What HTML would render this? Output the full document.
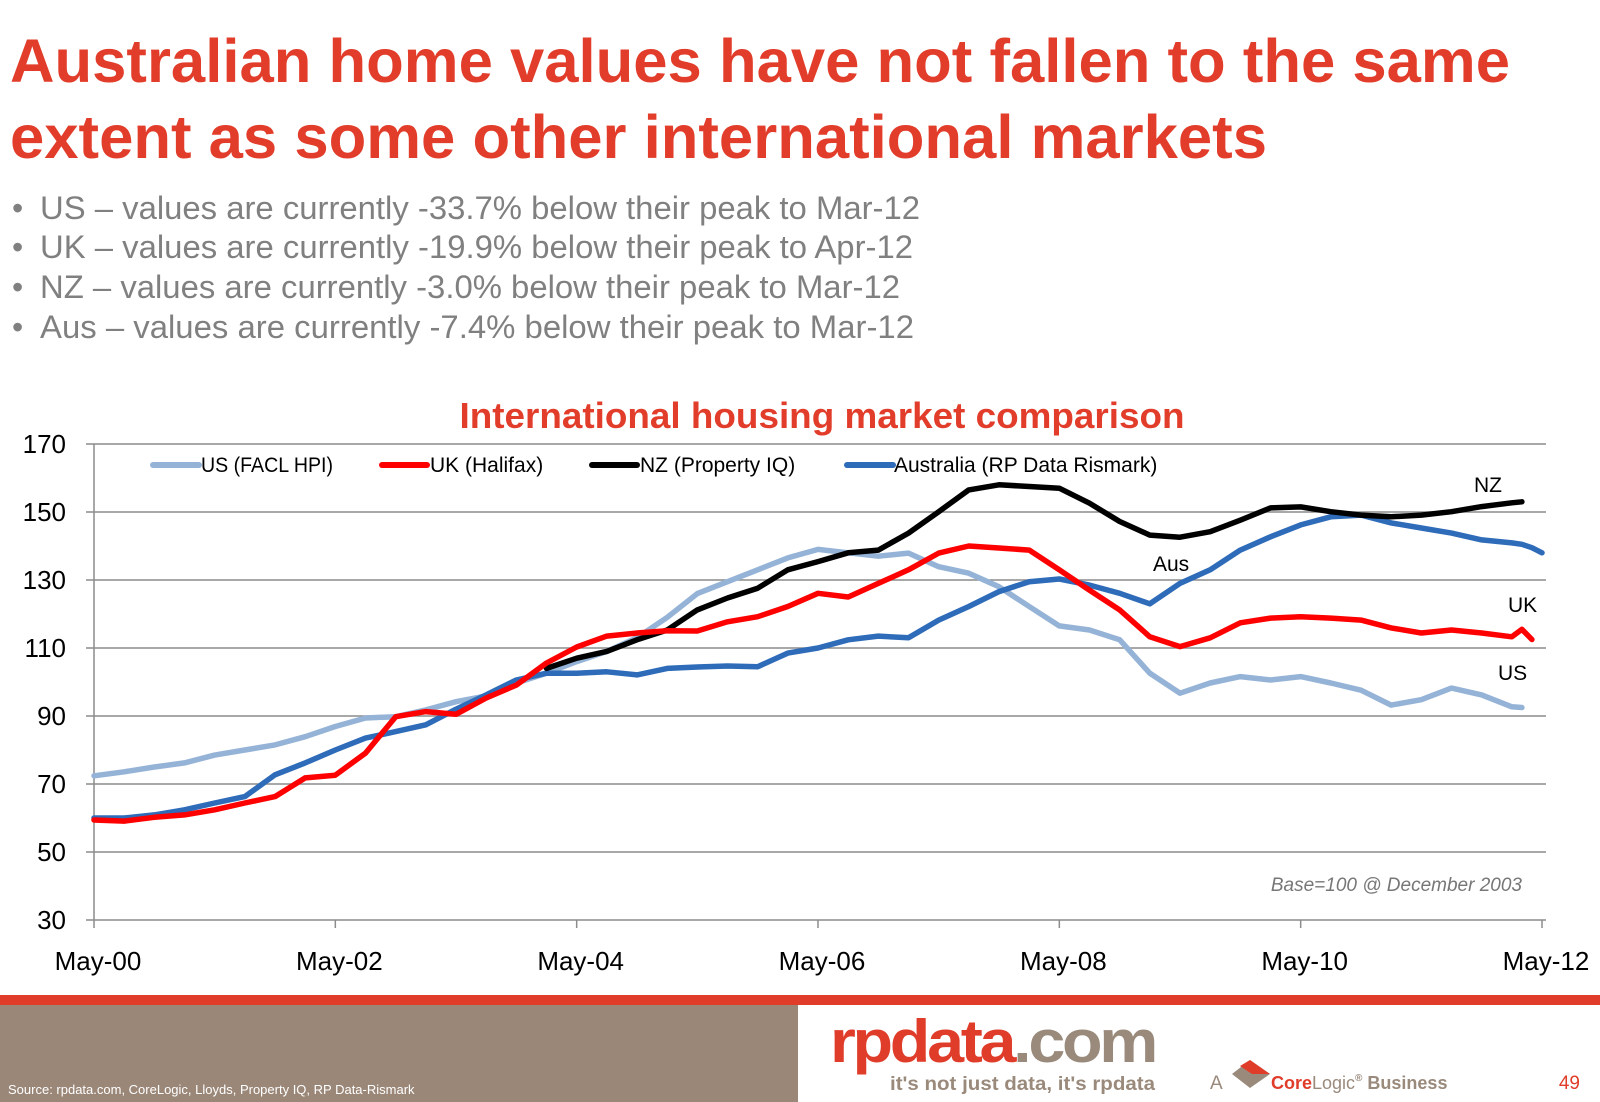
<!DOCTYPE html>
<html><head><meta charset="utf-8">
<style>
html,body{margin:0;padding:0;background:#fff;}
body{width:1600px;height:1102px;overflow:hidden;position:relative;font-family:"Liberation Sans",sans-serif;}
svg{position:absolute;left:0;top:0;}
</style></head>
<body>
<svg id="slide" width="1600" height="1102" viewBox="0 0 1600 1102">
<g font-family="Liberation Sans, sans-serif" font-weight="bold" font-size="61" fill="#e23c2a">
<text x="10" y="82" textLength="1500" lengthAdjust="spacingAndGlyphs">Australian home values have not fallen to the same</text>
<text x="10" y="158" textLength="1257" lengthAdjust="spacingAndGlyphs">extent as some other international markets</text>
</g>
<g font-family="Liberation Sans, sans-serif" font-size="32" fill="#808080">
<text x="12" y="219">•</text><text x="40" y="219" textLength="880" lengthAdjust="spacingAndGlyphs">US – values are currently -33.7% below their peak to Mar-12</text>
<text x="12" y="258">•</text><text x="40" y="258" textLength="873" lengthAdjust="spacingAndGlyphs">UK – values are currently -19.9% below their peak to Apr-12</text>
<text x="12" y="298">•</text><text x="40" y="298" textLength="860" lengthAdjust="spacingAndGlyphs">NZ – values are currently -3.0% below their peak to Mar-12</text>
<text x="12" y="338">•</text><text x="40" y="338" textLength="874" lengthAdjust="spacingAndGlyphs">Aus – values are currently -7.4% below their peak to Mar-12</text>
</g>
<text x="822" y="428" text-anchor="middle" font-family="Liberation Sans, sans-serif" font-weight="bold" font-size="36" fill="#e23c2a" textLength="725" lengthAdjust="spacingAndGlyphs">International housing market comparison</text>
<g id="grid"></g>
<g id="axes"></g>
<g id="series"></g>
<g font-family="Liberation Sans, sans-serif" font-size="21" fill="#000">
<line x1="153" y1="465" x2="199" y2="465" stroke="#95b3d7" stroke-width="6" stroke-linecap="round"/>
<text x="201" y="472" textLength="132" lengthAdjust="spacingAndGlyphs">US (FACL HPI)</text>
<line x1="382" y1="465" x2="427" y2="465" stroke="#ff0000" stroke-width="6" stroke-linecap="round"/>
<text x="430" y="472">UK (Halifax)</text>
<line x1="592" y1="465" x2="637" y2="465" stroke="#000" stroke-width="6" stroke-linecap="round"/>
<text x="640" y="472">NZ (Property IQ)</text>
<line x1="847" y1="465" x2="893" y2="465" stroke="#2e6bb8" stroke-width="6" stroke-linecap="round"/>
<text x="894" y="472">Australia (RP Data Rismark)</text>
</g>
<g font-family="Liberation Sans, sans-serif" font-size="21" fill="#000">
<text x="1474" y="492">NZ</text>
<text x="1153" y="571">Aus</text>
<text x="1508" y="612">UK</text>
<text x="1498" y="680">US</text>
</g>
<text x="1522" y="891" text-anchor="end" font-family="Liberation Sans, sans-serif" font-style="italic" font-size="19" fill="#777">Base=100 @ December 2003</text>
<rect x="0" y="995" width="1600" height="10" fill="#e03c2a"/>
<rect x="0" y="1005" width="798" height="97" fill="#9a8778"/>
<text x="8" y="1094" font-family="Liberation Sans, sans-serif" font-size="13" fill="#fff">Source:  rpdata.com,  CoreLogic, Lloyds, Property IQ, RP Data-Rismark</text>
<text x="830" y="1062" font-family="Liberation Sans, sans-serif" font-weight="bold" font-size="60" letter-spacing="-3" fill="#e03c2a" textLength="325" lengthAdjust="spacingAndGlyphs">rpdata<tspan fill="#9a8a7c">.com</tspan></text>
<text x="890" y="1090" font-family="Liberation Sans, sans-serif" font-weight="bold" font-size="19" fill="#9a8a7c" textLength="265" lengthAdjust="spacingAndGlyphs">it's not just data, it's rpdata</text>
<g>
<text x="1210" y="1089" font-family="Liberation Sans, sans-serif" font-size="19" fill="#9a8a7c">A</text>
<polygon points="1250,1060 1270,1074 1250,1088 1232,1074" fill="#9a8a7c"/>
<polygon points="1250,1060 1270,1074 1252,1074 1240,1066" fill="#e03c2a"/>
<text x="1271" y="1089" font-family="Liberation Sans, sans-serif" font-weight="bold" font-size="18" fill="#e03c2a">Core<tspan fill="#9a8a7c" font-weight="normal">Logic</tspan><tspan fill="#9a8a7c" font-size="10" dy="-8">®</tspan><tspan fill="#9a8a7c" dy="8"> Business</tspan></text>
</g>
<text x="1580" y="1089" text-anchor="end" font-family="Liberation Sans, sans-serif" font-size="19" fill="#e03c2a">49</text>
</svg>
<script>
const monthsQ = [0,3,6,9,12,15,18,21,24,27,30,33,36,39,42,45,48,51,54,57,60,63,66,69,72,75,78,81,84,87,90,93,96,99,102,105,108,111,114,117,120,123,126,129,132,135,138,141,142,143,144];
const usValues = [72.4,73.6,75,76.2,78.5,80,81.5,83.9,86.9,89.4,89.8,91.8,94.2,95.9,99.7,102.6,106,109,113,119,126,129.5,133,136.5,139,138,137,137.9,133.9,132,128,122.2,116.5,115.3,112.4,102.6,96.7,99.7,101.6,100.6,101.6,99.7,97.6,93.2,94.8,98.2,96.2,92.7,92.5,null,null];
const ukValues = [59.4,59.1,60.2,60.9,62.4,64.4,66.3,71.8,72.6,79.1,89.8,91.3,90.5,95.3,99.1,105.6,110.3,113.5,114.4,115.1,115,117.7,119.2,122.2,126.1,125,129,133,137.9,140,139.4,138.8,133,127,121.2,113.3,110.4,113,117.4,118.8,119.2,118.8,118.2,115.9,114.4,115.3,114.4,113.3,115.5,112.5,null];
const nzValues = [null,null,null,null,null,null,null,null,null,null,null,null,null,null,null,104,107,109,112.4,115.3,121.2,124.7,127.6,133,135.4,138,138.8,143.8,150.1,156.5,158,157.5,157,152.6,147.2,143.2,142.6,144.2,147.6,151.2,151.5,150.1,149.1,148.6,149.1,150.1,151.6,152.7,153,null,null];
const ausValues = [60,60,60.9,62.4,64.4,66.3,72.7,76.2,80,83.5,85.4,87.4,92,96.2,100.6,102.6,102.6,103,102.1,104,104.4,104.7,104.5,108.5,110,112.4,113.5,113,118.2,122.2,126.6,129.5,130.3,128.5,126.1,123,129,133,138.8,142.7,146.2,148.6,149.1,146.8,145.3,143.8,141.8,140.9,140.5,139.5,138];
const yTicks = [30,50,70,90,110,130,150,170];
const xTickMonths = [0,24,48,72,96,120,144];
const xTickLabels = ["May-00","May-02","May-04","May-06","May-08","May-10","May-12"];

const NS = "http://www.w3.org/2000/svg";
const X0 = 94, X1 = 1542, Y170 = 444, Y30 = 920;
function xScale(m){ return X0 + (X1 - X0) * m / 144; }
function yScale(v){ return Y30 - (Y30 - Y170) * (v - 30) / 140; }
function mk(tag, attrs, parent){
  const e = document.createElementNS(NS, tag);
  for (const k in attrs) e.setAttribute(k, attrs[k]);
  parent.appendChild(e);
  return e;
}
const grid = document.getElementById('grid');
const axes = document.getElementById('axes');
const series = document.getElementById('series');

yTicks.forEach(function(t){
  const y = yScale(t);
  if (t > 30) {
    const gl = mk('line', {x1: X0 - 8, x2: X1 + 4, y1: y, y2: y, stroke: '#8c8c8c', 'stroke-width': 1.5}, grid);
    
    
  }
  const tl = mk('text', {x: 66, y: y + 9, 'text-anchor': 'end', 'font-family': 'Liberation Sans, sans-serif', 'font-size': 26, fill: '#000'}, axes);
  tl.textContent = t;
  
  
});
const yax = mk('line', {x1: X0, x2: X0, y1: Y170, y2: Y30, stroke: '#8c8c8c', 'stroke-width': 1.5}, axes);


const xax = mk('line', {x1: X0 - 8, x2: X1 + 4, y1: Y30, y2: Y30, stroke: '#8c8c8c', 'stroke-width': 1.5}, axes);


xTickMonths.forEach(function(m, i){
  const x = xScale(m);
  const tk = mk('line', {x1: x, x2: x, y1: Y30, y2: Y30 + 8, stroke: '#8c8c8c', 'stroke-width': 1.5}, axes);
  
  
  const tl = mk('text', {x: x + 4, y: 970, 'text-anchor': 'middle', 'font-family': 'Liberation Sans, sans-serif', 'font-size': 26, fill: '#000'}, axes);
  tl.textContent = xTickLabels[i];
  
  
});

function drawSeries(vals, color, name){
  let d = '';
  let started = false;
  vals.forEach(function(v, i){
    if (v === null) return;
    d += (started ? 'L' : 'M') + xScale(monthsQ[i]).toFixed(1) + ',' + yScale(v).toFixed(1);
    started = true;
  });
  const p = mk('path', {d: d, fill: 'none', stroke: color, 'stroke-width': 5.5, 'stroke-linejoin': 'round', 'stroke-linecap': 'round'}, series);
  
  
}
drawSeries(usValues, '#95b3d7', 'line-us');
drawSeries(ausValues, '#2e6bb8', 'line-australia');
drawSeries(nzValues, '#000000', 'line-nz');
drawSeries(ukValues, '#ff0000', 'line-uk');
</script>
</body></html>
